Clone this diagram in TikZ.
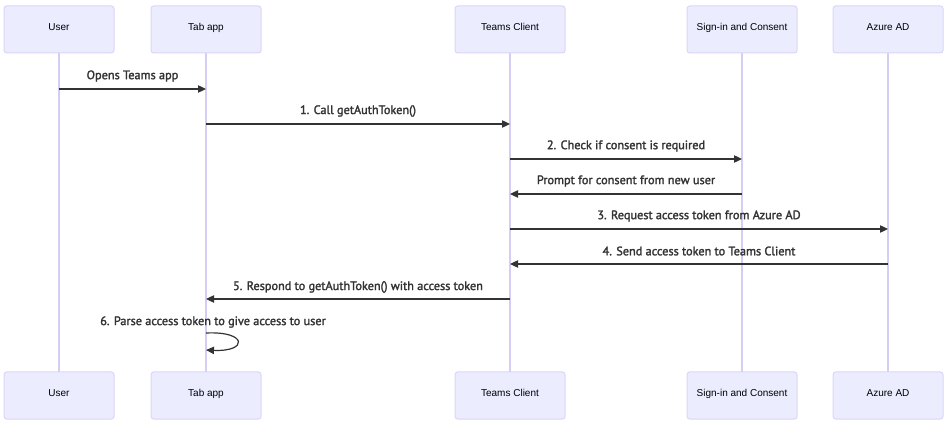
\documentclass[tikz,border=0pt]{standalone}
\usepackage{fontspec}
\setmainfont{Liberation Sans}
\newfontface\msgfont[FakeBold=2]{PT Sans}
\usetikzlibrary{arrows.meta}
\definecolor{boxfill}{HTML}{ECECFF}
\definecolor{boxline}{HTML}{DCD4F8}
\definecolor{lifeline}{HTML}{D6CCF4}
\definecolor{msgline}{HTML}{333333}
\tikzset{
  actor/.style={draw=boxline, fill=boxfill, line width=0.75pt, rounded corners=2pt,
    minimum width=82.5pt, minimum height=35.25pt, inner sep=0pt,
    text height=5.5pt, text depth=3.5pt,
    font=\fontsize{7.5pt}{9pt}\selectfont, text=black},
  life/.style={draw=lifeline, line width=0.9pt},
  msg/.style={draw=msgline, line width=0.9pt, -{Triangle[length=6pt,width=5.5pt]}},
  lbl/.style={font=\msgfont\fontsize{9.2pt}{11pt}\selectfont, text=msgline, inner sep=0pt}
}
\begin{document}
\begin{tikzpicture}[x=0.75pt,y=-0.75pt]
\useasboundingbox (0,0) rectangle (949,427);
% lifelines first
\foreach \n/\x in {u/59,t/206,c/510,s/742,a/888}{
  \coordinate (\n top) at (\x,53);
  \coordinate (\n bot) at (\x,372);
}
\draw[life] (utop) -- (ubot);
\draw[life] (ttop) -- (tbot);
\draw[life] (ctop) -- (cbot);
\draw[life] (stop) -- (sbot);
\draw[life] (atop) -- (abot);
% actors
\node[actor] (u1) at (59,29.5) {User};
\node[actor] (t1) at (206,29.5) {Tab app};
\node[actor] (c1) at (510,29.5) {Teams Client};
\node[actor] (s1) at (742,29.5) {Sign-in and Consent};
\node[actor] (a1) at (888,29.5) {Azure AD};
\node[actor] (u2) at (59,395.5) {User};
\node[actor] (t2) at (206,395.5) {Tab app};
\node[actor] (c2) at (510,395.5) {Teams Client};
\node[actor] (s2) at (742,395.5) {Sign-in and Consent};
\node[actor] (a2) at (888,395.5) {Azure AD};
% message coordinates
\coordinate (m0a) at (59,89);  \coordinate (m0b) at (206,89);
\coordinate (m1a) at (206,124); \coordinate (m1b) at (510,124);
\coordinate (m2a) at (510,159); \coordinate (m2b) at (742,159);
\coordinate (m3a) at (742,194); \coordinate (m3b) at (510,194);
\coordinate (m4a) at (510,229); \coordinate (m4b) at (888,229);
\coordinate (m5a) at (888,264); \coordinate (m5b) at (510,264);
\coordinate (m6a) at (510,299); \coordinate (m6b) at (206,299);
\coordinate (m7a) at (206,333); \coordinate (m7b) at (206,350);
\draw[msg] (m0a) -- (m0b);
\draw[msg] (m1a) -- (m1b);
\draw[msg] (m2a) -- (m2b);
\draw[msg] (m3a) -- (m3b);
\draw[msg] (m4a) -- (m4b);
\draw[msg] (m5a) -- (m5b);
\draw[msg] (m6a) -- (m6b);
\draw[msg] (m7a) .. controls (248,331) and (248,352) .. (m7b);
% labels
\node[lbl] (l0) at (132.5,76) {Opens Teams app};
\node[lbl] (l1) at (358,111) {1. Call getAuthToken()};
\node[lbl] (l2) at (626,146) {2. Check if consent is required};
\node[lbl] (l3) at (626,181) {Prompt for consent from new user};
\node[lbl] (l4) at (699,216) {3. Request access token from Azure AD};
\node[lbl] (l5) at (699,251) {4. Send access token to Teams Client};
\node[lbl] (l6) at (358,287) {5. Respond to getAuthToken() with access token};
\node[lbl] (l7) at (213,322) {6. Parse access token to give access to user};
\end{tikzpicture}
\end{document}
